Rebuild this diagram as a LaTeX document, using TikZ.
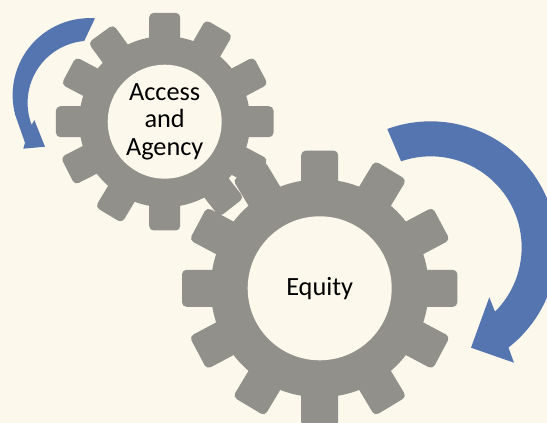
\documentclass[tikz,border=0pt]{standalone}
\usepackage{fontspec}
\setmainfont{Carlito}
\definecolor{paper}{HTML}{FDF8EC}
\definecolor{gearGray}{HTML}{91908A}
\definecolor{arrowBlue}{HTML}{5475B0}
\tikzset{
  tooth/.style={fill=gearGray,rounded corners=4.5pt},
  hub/.style={circle,fill=paper,inner sep=0pt,align=center,text=black,font=\fontsize{26.3}{27.5}\selectfont},
  swoosh/.style={fill=arrowBlue}
}

\begin{document}
\begin{tikzpicture}[x=1pt,y=1pt]
  % -=-=-=-=- PAGE -=-=-=-=-
  \clip (0,0) rectangle (547,423);
  \fill[paper] (0,0) rectangle (547,423);
  % -=-=-=-=- SMALL GEAR -=-=-=-=-
  \begin{scope}[shift={(164.7,301.3)}]
    \fill[gearGray] (0,0) circle (85.5pt);
    \foreach \a in {0,28,60,90,126,152,180,207,239,270,308,332}
      \fill[tooth,rotate=\a] (70,-15.5) rectangle (108.8,15.5);
  \end{scope}
  % -=-=-=-=- BIG GEAR -=-=-=-=-
  \begin{scope}[shift={(319.7,134.7)}]
    \fill[gearGray] (0,0) circle (109pt);
    \foreach \a in {0,28,59,90,121,152,180,208,239,270,301,332}
      \fill[tooth,rotate=\a] (90,-18.5) rectangle (137.7,18.5);
  \end{scope}
  % -=-=-=-=- HUBS -=-=-=-=-
  \node[hub,minimum size=114pt] (access) at (164.7,301.3) {Access\\and\\Agency};
  \node[hub,minimum size=144pt] (equity) at (319.7,134.7) {Equity};
  % -=-=-=-=- ARROWS -=-=-=-=-
  \fill[swoosh] (95,404.7) arc (86:195:77pt) -- (25,280.3) -- (23.3,274.3) -- (45,276.3)
    -- (34.3,303) -- (31.7,298) arc (201:95:62pt) -- cycle;
  \fill[swoosh] (387.3,294) arc (110:-52:126.5pt) -- (514,60.3) -- (471,75.3) -- (489.3,125.7)
    -- (495,111.3) arc (-45:109:91pt) -- cycle;
\end{tikzpicture}
\end{document}
